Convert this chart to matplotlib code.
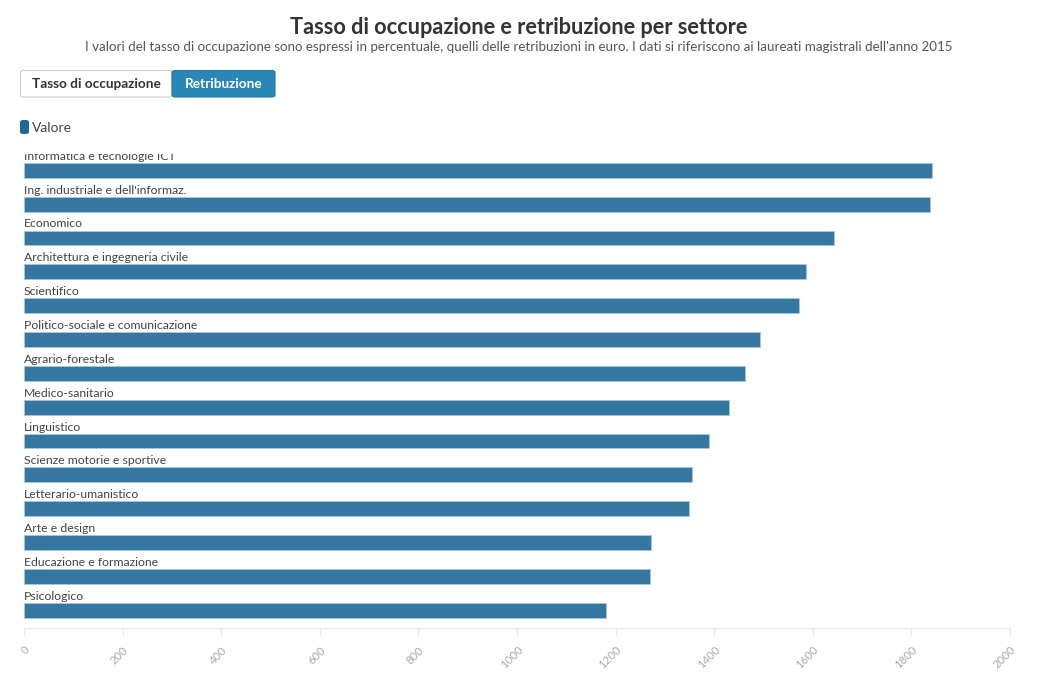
import matplotlib.pyplot as plt
from matplotlib.patches import FancyBboxPatch

# data (retribuzione, euro)
settori = [
    'Informatica e tecnologie ICT',
    "Ing. industriale e dell'informaz.",
    'Economico',
    'Architettura e ingegneria civile',
    'Scientifico',
    'Politico-sociale e comunicazione',
    'Agrario-forestale',
    'Medico-sanitario',
    'Linguistico',
    'Scienze motorie e sportive',
    'Letterario-umanistico',
    'Arte e design',
    'Educazione e formazione',
    'Psicologico',
]
retribuzione = [1841, 1837, 1644, 1587, 1572, 1492, 1463, 1431, 1389, 1354, 1349, 1272, 1270, 1181]
x_ticks = [0, 200, 400, 600, 800, 1000, 1200, 1400, 1600, 1800, 2000]

BAR = '#3577a0'
TEXT = '#444444'
FONT = ['Lato', 'DejaVu Sans']

plt.rcParams['font.family'] = FONT

W, H = 1038, 675
fig = plt.figure(figsize=(W / 100, H / 100), dpi=100)
fig.patch.set_facecolor('white')


def fx(px):
    return px / W


def fy(py):
    return 1 - py / H


# title / subtitle
fig.text(0.5, fy(27), 'Tasso di occupazione e retribuzione per settore',
         ha='center', va='center', fontsize=15.7, fontweight='bold', color='#333333')
fig.text(0.5, fy(47), "I valori del tasso di occupazione sono espressi in percentuale, quelli delle "
         "retribuzioni in euro. I dati si riferiscono ai laureati magistrali dell'anno 2015",
         ha='center', va='center', fontsize=9.6, color='#555555')

# toggle buttons
b1 = FancyBboxPatch((fx(20.5), fy(97)), fx(172) - fx(20.5), fy(70.5) - fy(97),
                    boxstyle='round,pad=0,rounding_size=0.003', transform=fig.transFigure,
                    facecolor='white', edgecolor='#cccccc', linewidth=0.8)
b2 = FancyBboxPatch((fx(172), fy(97)), fx(275) - fx(172), fy(70.5) - fy(97),
                    boxstyle='round,pad=0,rounding_size=0.003', transform=fig.transFigure,
                    facecolor='#2a87b6', edgecolor='#2478a3', linewidth=0.8)
fig.patches.extend([b1, b2])
fig.text(fx(96), fy(84), 'Tasso di occupazione', ha='center', va='center',
         fontsize=9.8, fontweight='bold', color='#333333')
fig.text(fx(223.5), fy(84), 'Retribuzione', ha='center', va='center',
         fontsize=9.8, fontweight='bold', color='white')

# legend
leg = FancyBboxPatch((fx(20), fy(134)), fx(9), fy(120) - fy(134),
                     boxstyle='round,pad=0,rounding_size=0.003', transform=fig.transFigure,
                     facecolor='#1f6a96', edgecolor='none')
fig.patches.append(leg)
fig.text(fx(32), fy(127.5), 'Valore', ha='left', va='center', fontsize=10, color=TEXT)

# bar chart
ax = fig.add_axes([fx(24), fy(627.7), fx(1010) - fx(24), fy(153.5) - fy(627.7)])
y = list(range(len(settori)))
ax.barh(y, retribuzione, height=0.44, color=BAR, edgecolor='#a9c6d9', linewidth=0.6, zorder=2)
for i, name in enumerate(settori):
    ax.text(0, i - 0.25, name, ha='left', va='bottom', fontsize=8.8, color=TEXT, clip_on=True)

ax.set_xlim(0, 2000)
ax.set_ylim(13.515, -0.495)
ax.set_yticks([])
ax.set_xticks(x_ticks)
ax.set_xticklabels([str(t) for t in x_ticks], rotation=45, ha='right', rotation_mode='anchor',
                   fontsize=8.2, color='#aaaaaa')
ax.tick_params(axis='x', length=6, width=0.8, color='#e6e6e6', pad=6)
for s in ['top', 'right', 'left']:
    ax.spines[s].set_visible(False)
ax.spines['bottom'].set_color('#e6e6e6')
ax.spines['bottom'].set_linewidth(0.8)

fig.savefig('out.png', dpi=100, facecolor='white')
